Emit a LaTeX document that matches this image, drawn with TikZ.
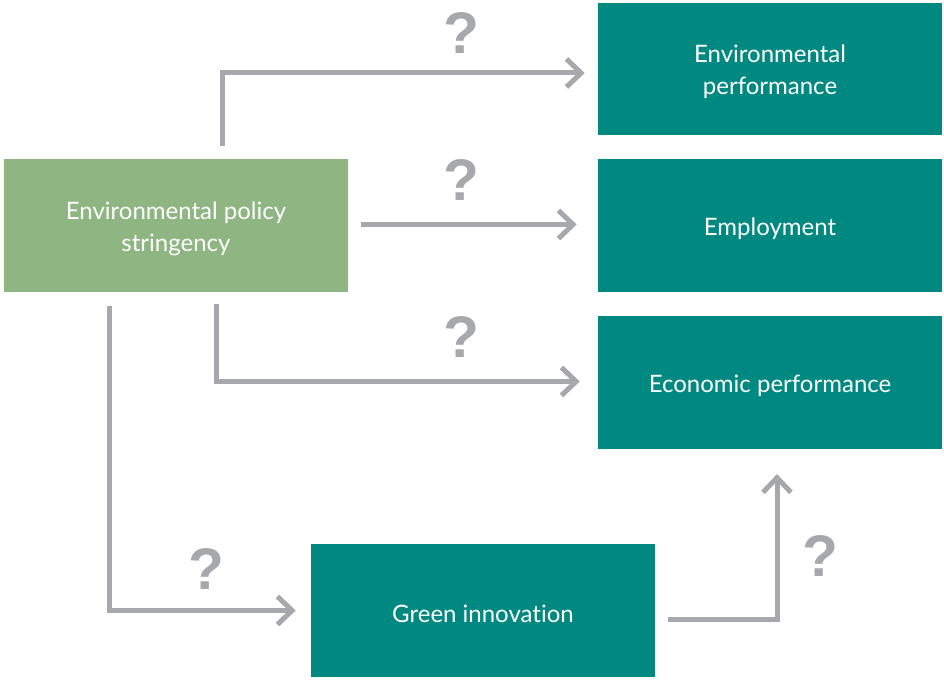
\documentclass[tikz,border=0pt]{standalone}
\usepackage{fontspec}
\setmainfont{Lato}[Ligatures=NoCommon]
\newfontfamily\qfont{Liberation Sans}
\usepackage{tikz}
\usetikzlibrary{arrows.meta,calc,positioning}
\definecolor{teal}{RGB}{0,137,128}
\definecolor{sage}{RGB}{143,182,130}
\definecolor{arrowgray}{RGB}{167,168,171}
\newcommand{\boxw}{258pt}
\newcommand{\boxh}{99.5pt}
\newcommand{\lift}{\rule{0pt}{18pt}}

\begin{document}
\begin{tikzpicture}[x=0.75pt,y=-0.75pt,
    box/.style={fill=teal, text=white, minimum width=\boxw, minimum height=\boxh,
                align=center, font=\fontsize{18}{24}\selectfont, inner sep=0pt},
    policy/.style={box, fill=sage},
    flow/.style={draw=arrowgray, line width=3.75pt,
                 -{Straight Barb[length=11pt,width=21pt,line width=3.75pt]}},
    qmark/.style={text=arrowgray, font=\qfont\bfseries\fontsize{44}{44}\selectfont}]
    %\draw[help lines] (0,0) grid (944,680);
    \useasboundingbox (0,0) rectangle (944,680);
    \node[policy] (eps) at (176,225.5) {\lift Environmental policy\\stringency};
    \node[box] (envperf) at (770,69) {\lift Environmental\\performance};
    \node[box] (employ) at (770,225.5) {\lift Employment};
    \node[box] (econ) at (770,382.5) {\lift Economic performance};
    \node[box] (green) at (483,610.5) {\lift Green innovation};

    \draw[flow] ($(eps.north)+(46,-13)$) |- ($(envperf.west)+(-13,4)$);
    \draw[flow] ($(eps.east)+(13,-1)$) -- ($(employ.west)+(-21,-1)$);
    \draw[flow] ($(eps.south)+(40,12)$) |- ($(econ.west)+(-18,-1)$);
    \draw[flow] ($(eps.south)+(-67,14)$) |- ($(green.west)+(-15,0)$);
    \draw[flow] ($(green.east)+(13,9)$) -| ($(econ.south)+(7,25)$);

    \node[qmark] (q1) at (461,33) {?};
    \node[qmark] (q2) at (461,180) {?};
    \node[qmark] (q3) at (461,337) {?};
    \node[qmark] (q4) at (206,569) {?};
    \node[qmark] (q5) at (820,556) {?};
\end{tikzpicture}
\end{document}
